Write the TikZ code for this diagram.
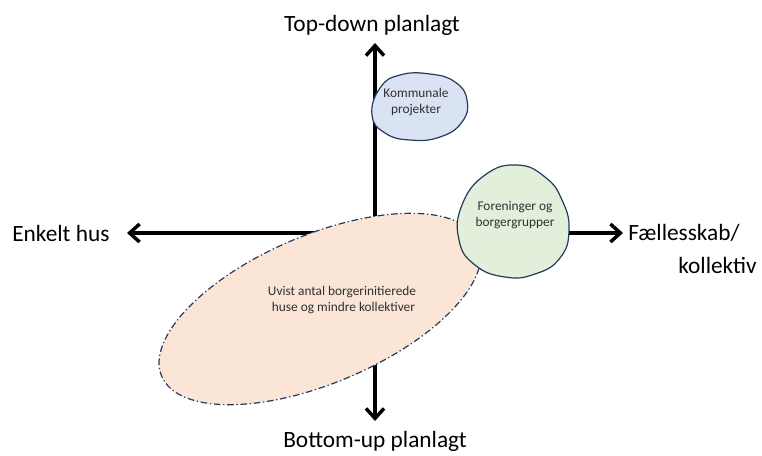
\documentclass[tikz,border=0pt]{standalone}
\usepackage{fontspec}
\setmainfont{Carlito}
\usetikzlibrary{arrows.meta}
\definecolor{navy}{HTML}{25395C}
\definecolor{bluefill}{HTML}{DAE3F3}
\definecolor{greenfill}{HTML}{E2EFDA}
\definecolor{pinkfill}{HTML}{FBE5D6}
\definecolor{textgrey}{HTML}{303030}
\begin{document}
\begin{tikzpicture} [
        x=0.75pt, y=-0.75pt,
        axis/.style = {draw, line width=2.6pt,
            {Straight Barb[length=7.5pt,width=13.5pt]}-{Straight Barb[length=7.5pt,width=13.5pt]}},
        axis label/.style = {font=\fontsize{17.5}{21}\selectfont, inner sep=0pt},
        blob/.style = {draw=navy, line width=0.9pt},
        blob text/.style = {font=\fontsize{10}{11.5}\selectfont, text=textgrey, align=center, inner sep=0pt},
    ]
    \useasboundingbox (0,0) rectangle (762,455);
    % axes
    \coordinate (axis n) at (375,43);
    \coordinate (axis s) at (375,421);
    \coordinate (axis w) at (127,233);
    \coordinate (axis e) at (623,233);
    \path[axis] (axis s) -- (axis n);
    \path[axis] (axis w) -- (axis e);
    \node[axis label] (top) at (372,25) {Top-down planlagt};
    \node[axis label] (bottom) at (375,441) {Bottom-up planlagt};
    \node[axis label, anchor=west] (left) at (12,233) {Enkelt hus};
    \node[axis label, anchor=west] (right) at (628,233) {Fællesskab/};
    \node[axis label, anchor=east] (right2) at (757,265) {kollektiv};
    % areas
    \draw[blob, fill=pinkfill, dash pattern=on 5pt off 2pt on 1pt off 2pt,
        rotate around={23:(320,309)}] (320,309) ellipse [x radius=172, y radius=74];
    \draw[blob, fill=greenfill] plot[smooth cycle, tension=0.8] coordinates {
            (517,165) (545,177) (562,200) (569,230) (560,258) (535,274)
            (505,277) (475,265) (459,240) (462,205) (485,175)};
    \draw[blob, fill=bluefill] plot[smooth cycle, tension=0.8] coordinates {
            (372,115) (380,88) (400,75) (430,74) (455,82) (467,100)
            (462,122) (440,137) (410,140) (385,133)};
    \node[blob text] (kommunale) at (416,102) {Kommunale\\projekter};
    \node[blob text] (foreninger) at (515,215) {Foreninger og\\borgergrupper};
    \node[blob text] (uvist) at (342,300) {Uvist antal borgerinitierede\\\ huse og mindre kollektiver};
\end{tikzpicture}
\end{document}
